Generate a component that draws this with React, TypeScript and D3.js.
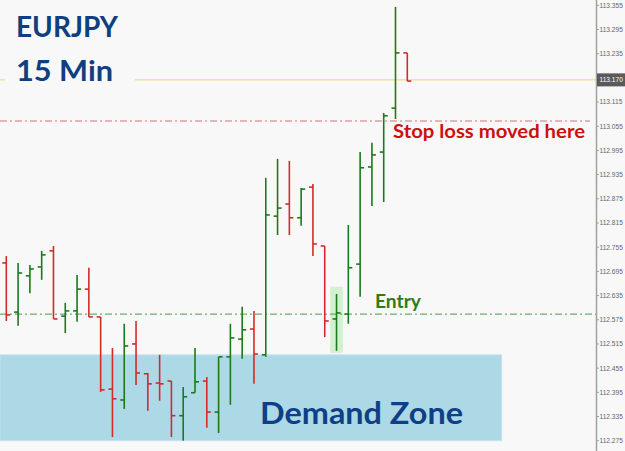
import * as d3 from 'd3';
import React from 'react';

// OHLC, oldest first
const opens = [112.716, 112.594, 112.684, 112.706, 112.746, 112.584, 112.597, 112.651, 112.582, 112.403, 112.376, 112.515, 112.441, 112.418, 112.423, 112.337, 112.394, 112.423, 112.346, 112.483, 112.527, 112.552, 112.488, 112.832, 112.862, 112.828, 112.904, 112.758, 112.577, 112.589, 112.713, 112.954, 112.991, 113.1, 113.237];
const highs = [112.733, 112.716, 112.711, 112.746, 112.758, 112.617, 112.686, 112.704, 112.582, 112.505, 112.565, 112.572, 112.443, 112.488, 112.423, 112.408, 112.505, 112.433, 112.483, 112.565, 112.607, 112.597, 112.927, 112.974, 112.969, 112.902, 112.912, 112.758, 112.639, 112.81, 112.991, 113.014, 113.088, 113.351, 113.237];
const lows = [112.572, 112.56, 112.641, 112.674, 112.577, 112.542, 112.57, 112.582, 112.396, 112.284, 112.354, 112.413, 112.349, 112.374, 112.284, 112.275, 112.394, 112.307, 112.294, 112.364, 112.478, 112.416, 112.483, 112.785, 112.785, 112.808, 112.733, 112.532, 112.498, 112.565, 112.632, 112.857, 112.867, 113.073, 113.167];
const closes = [112.587, 112.691, 112.701, 112.736, 112.577, 112.597, 112.651, 112.582, 112.401, 112.379, 112.51, 112.443, 112.416, 112.416, 112.337, 112.384, 112.421, 112.346, 112.483, 112.53, 112.55, 112.49, 112.835, 112.852, 112.828, 112.899, 112.763, 112.572, 112.592, 112.704, 112.952, 112.984, 113.081, 113.237, 113.167];

const tickLabels = ['113.355', '113.295', '113.235', '113.115', '113.055', '112.995', '112.935', '112.875', '112.815', '112.755', '112.695', '112.635', '112.575', '112.515', '112.455', '112.395', '112.335', '112.275'];

const currentPrice = 113.17;
const stopLoss = 113.068;
const entry = 112.589;
const demandZone = [112.275, 112.488];
const demandZoneEndBar = 42;
const entryBar = 28;
const entryBox = [112.493, 112.657];

const W = 625;
const H = 451;
const AXIS_X = 596;
const BG = '#f8f8f8';
const UP = '#1b7a1b';
const DOWN = '#d42a2a';

export default function App() {
    const x = d3.scaleLinear().domain([0, opens.length - 1]).range([6.3, 407.3]);
    const y = d3.scaleLinear().domain([112.275, 113.355]).range([440.7, 5.3]);
    const step = x(1) - x(0);

    const axisText = {
        fontSize: 6.6,
        fontFamily: "'Liberation Sans', Arial, sans-serif",
    } as const;

    return (
        <svg
            width={W}
            height={H}
            style={{ position: 'fixed', left: 0, top: 0, display: 'block', background: BG }}
            fontFamily="Lato, 'Open Sans', sans-serif"
        >
            <rect width={W} height={H} fill={BG} />

            {/* demand zone */}
            <rect
                x={0}
                y={y(demandZone[1])}
                width={x(demandZoneEndBar)}
                height={y(demandZone[0]) - y(demandZone[1])}
                fill="#add8e6"
                stroke="#c4e3ee"
                strokeWidth={1}
            />

            {/* entry candle highlight */}
            <rect
                x={x(entryBar) - step / 2 - 0.5}
                y={y(entryBox[1])}
                width={step + 1}
                height={y(entryBox[0]) - y(entryBox[1])}
                fill="#cdefcb"
                opacity={0.9}
            />

            {/* levels */}
            <line x1={0} x2={AXIS_X} y1={y(currentPrice)} y2={y(currentPrice)} stroke="#f0d46a" strokeWidth={1} />
            <line x1={0} x2={590} y1={y(stopLoss)} y2={y(stopLoss)} stroke="#c87474" strokeWidth={1} strokeDasharray="7 3 2 3" />
            <line x1={0} x2={AXIS_X} y1={y(entry)} y2={y(entry)} stroke="#4a9a4a" strokeWidth={1} strokeDasharray="7 3 2 3" />

            {/* OHLC bars */}
            {opens.map((o, i) => {
                const c = closes[i];
                const col = c < o ? DOWN : UP;
                const cx = x(i);
                return (
                    <g key={i} stroke={col} strokeWidth={1.6}>
                        <line x1={cx} x2={cx} y1={y(highs[i])} y2={y(lows[i])} />
                        <line x1={cx - 4} x2={cx} y1={y(o)} y2={y(o)} />
                        <line x1={cx} x2={cx + 4} y1={y(c)} y2={y(c)} />
                    </g>
                );
            })}

            {/* title block */}
            <rect x={5} y={0} width={130} height={92} fill={BG} />
            <text x={16} y={37} fontSize={28} fontWeight={700} fill="#0f3f80" textLength={102} lengthAdjust="spacingAndGlyphs">EURJPY</text>
            <text x={16} y={81} fontSize={28} fontWeight={700} fill="#0f3f80" textLength={97} lengthAdjust="spacingAndGlyphs">15 Min</text>

            {/* annotations */}
            <text x={393} y={137.5} fontSize={18.5} fontWeight={700} fill="#cc1010" textLength={192} lengthAdjust="spacingAndGlyphs">Stop loss moved here</text>
            <text x={375} y={308} fontSize={18.5} fontWeight={700} fill="#2e7d14" textLength={46} lengthAdjust="spacingAndGlyphs">Entry</text>
            <text x={260} y={424} fontSize={31} fontWeight={700} fill="#0f3f87" textLength={203} lengthAdjust="spacingAndGlyphs">Demand Zone</text>

            {/* price axis */}
            <rect x={AXIS_X} y={0} width={W - AXIS_X} height={H} fill={BG} />
            <line x1={AXIS_X + 0.5} x2={AXIS_X + 0.5} y1={0} y2={H} stroke="#a0a0a0" strokeWidth={1.5} />
            {tickLabels.map((t) => (
                <g key={t}>
                    <line x1={AXIS_X} x2={AXIS_X + 3} y1={y(+t)} y2={y(+t)} stroke="#a0a0a0" />
                    <text x={599.5} y={y(+t) + 2.4} fill="#666" {...axisText}>{t}</text>
                </g>
            ))}
            <rect x={AXIS_X + 1} y={y(currentPrice) - 6.5} width={W - AXIS_X - 1} height={13} fill="#5a5a5a" />
            <text x={599.5} y={y(currentPrice) + 2.4} fill="#fff" {...axisText}>113.170</text>
        </svg>
    );
}
